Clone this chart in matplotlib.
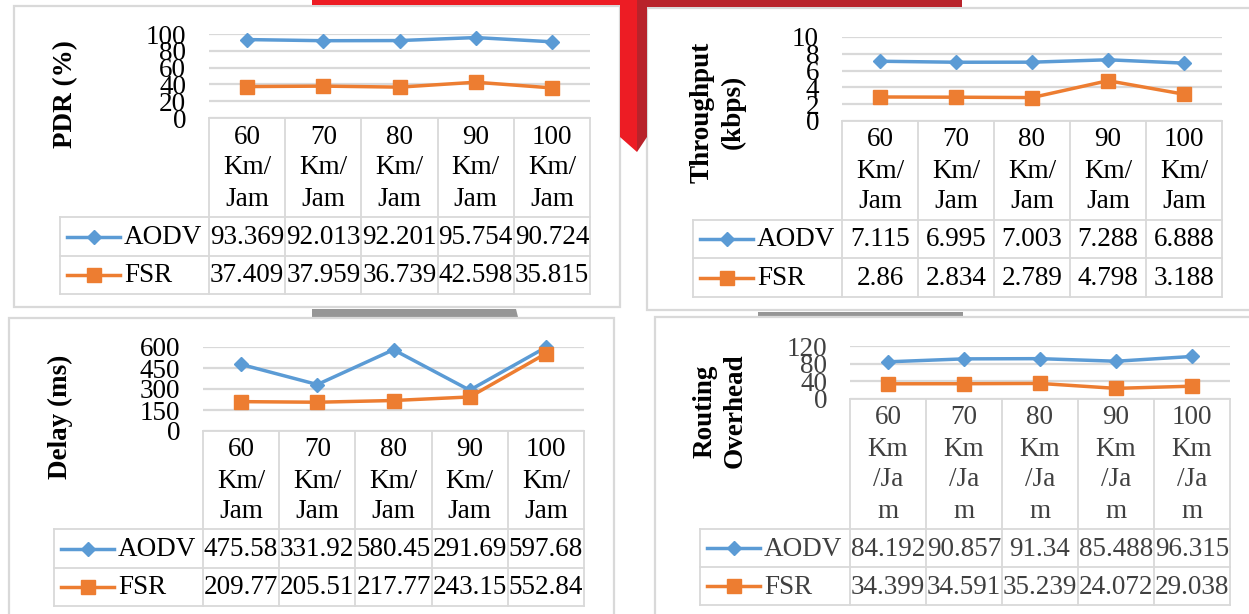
import matplotlib
matplotlib.use("Agg")
import matplotlib.pyplot as plt
from matplotlib.patches import Polygon, Rectangle

plt.rcParams['font.family'] = ['Liberation Serif', 'DejaVu Serif']

# speeds and results per routing protocol
speeds = [60, 70, 80, 90, 100]
series_names = ["AODV", "FSR"]

pdr_aodv = [93.369, 92.013, 92.201, 95.754, 90.724]
pdr_fsr = [37.409, 37.959, 36.739, 42.598, 35.815]
pdr_ticks = [0, 20, 40, 60, 80, 100]

thr_aodv = [7.115, 6.995, 7.003, 7.288, 6.888]
thr_fsr = [2.86, 2.834, 2.789, 4.798, 3.188]
thr_ticks = [0, 2, 4, 6, 8, 10]

delay_aodv = [475.58, 331.92, 580.45, 291.69, 597.68]
delay_fsr = [209.77, 205.51, 217.77, 243.15, 552.84]
delay_ticks = [0, 150, 300, 450, 600]

ro_aodv = [84.192, 90.857, 91.34, 85.488, 96.315]
ro_fsr = [34.399, 34.591, 35.239, 24.072, 29.038]
ro_ticks = [0, 40, 80, 120]

BLUE = "#5B9BD5"
ORANGE = "#ED7D31"
GRID = "#D9D9D9"
W, H = 1249, 614
FS = 19.5

fig = plt.figure(figsize=(W / 100, H / 100), dpi=100)
bg = fig.add_axes([0, 0, 1, 1])
bg.set_xlim(0, W)
bg.set_ylim(H, 0)
bg.axis("off")

# red banner pieces at the top
bg.add_patch(Rectangle((312, 0), 325, 5, color="#ED1C24", lw=0, zorder=3))
bg.add_patch(Rectangle((637, 0), 325, 7, color="#B8232B", lw=0, zorder=3))
bg.add_patch(Polygon([(620, 0), (637, 0), (637, 152), (620, 137)],
                     closed=True, color="#ED1C24", lw=0, zorder=3))
bg.add_patch(Polygon([(637, 0), (647, 0), (647, 137), (637, 152)],
                     closed=True, color="#B8232B", lw=0, zorder=3))

# grey tabs between the panels
bg.add_patch(Polygon([(312, 309), (516, 309), (518, 317), (312, 317)],
                     closed=True, color="#969696", lw=0, zorder=1))
bg.add_patch(Polygon([(758, 312), (963, 312), (963, 317), (758, 317)],
                     closed=True, color="#969696", lw=0, zorder=1))


def px_axes(x0, y0, x1, y1):
    return fig.add_axes([x0 / W, 1 - y1 / H, (x1 - x0) / W, (y1 - y0) / H])


def panel(box, gx0, gx1, ytop, yzero, rows, leg_left, header, ylabel, ylab_xy,
          aodv, fsr, ticks, color="black"):
    bx0, by0, bx1, by1 = box
    bg.add_patch(Rectangle((bx0, by0), bx1 - bx0, by1 - by0, fill=True,
                           facecolor="white", edgecolor=GRID, lw=1.6, zorder=2))

    ax = px_axes(gx0, ytop, gx1, yzero)
    ax.set_facecolor("none")
    ax.set_xlim(-0.5, len(speeds) - 0.5)
    ax.set_ylim(ticks[0], ticks[-1])
    ax.set_yticks(ticks)
    ax.set_yticklabels([str(t) for t in ticks], fontsize=FS, color=color)
    ax.tick_params(axis="y", length=0, pad=16.5)
    ax.set_xticks([])
    for s in ax.spines.values():
        s.set_visible(False)
    ax.grid(axis="y", color=GRID, lw=1.6)
    ax.set_axisbelow(True)
    xs = range(len(speeds))
    ax.plot(xs, aodv, color=BLUE, lw=2.5, marker="D", ms=7.5, clip_on=False, zorder=3)
    ax.plot(xs, fsr, color=ORANGE, lw=2.5, marker="s", ms=10.5, clip_on=False, zorder=3)

    # data table under the plot
    hb, r1, r2 = rows
    n = len(speeds)
    cw = (gx1 - gx0) / n
    lk = dict(color=GRID, lw=1.3, zorder=4)
    bg.plot([gx0, gx1], [yzero, yzero], **lk)
    for y in (hb, r1, r2):
        bg.plot([leg_left, gx1], [y, y], **lk)
    bg.plot([leg_left, leg_left], [hb, r2], **lk)
    for i in range(n + 1):
        x = gx0 + i * cw
        bg.plot([x, x], [yzero, r2], **lk)

    for i, sp in enumerate(speeds):
        cx = gx0 + (i + 0.5) * cw
        for j, line in enumerate(header(sp)):
            bg.text(cx, yzero + 19 + j * 31, line, ha="center", va="center",
                    fontsize=FS, color=color, zorder=5)
        bg.text(cx, (hb + r1) / 2 + 1, f"{aodv[i]:g}", ha="center", va="center",
                fontsize=FS, color=color, zorder=5)
        bg.text(cx, (r1 + r2) / 2 + 1, f"{fsr[i]:g}", ha="center", va="center",
                fontsize=FS, color=color, zorder=5)

    # legend keys in the first column
    for (y0, y1), name, c, m, ms in (((hb, r1), series_names[0], BLUE, "D", 7.5),
                                     ((r1, r2), series_names[1], ORANGE, "s", 10.5)):
        yc = (y0 + y1) / 2
        bg.plot([leg_left + 7, leg_left + 60], [yc, yc], color=c, lw=2.5, zorder=5)
        bg.plot([leg_left + 34], [yc], color=c, marker=m, ms=ms, zorder=5)
        bg.text(leg_left + 64, yc + 1, name, ha="left", va="center",
                fontsize=FS, color=color, zorder=5)

    bg.text(ylab_xy[0], ylab_xy[1], ylabel, rotation=90, ha="center", va="center",
            fontsize=FS, fontweight="bold", color="black", linespacing=1.3,
            multialignment="center", zorder=5)


def head3(sp):
    return [str(sp), "Km/", "Jam"]


def head4(sp):
    return [str(sp), "Km", "/Ja", "m"]


panel((14, 6, 620, 307), 209, 590, 34, 118, (217, 256, 294), 60, head3,
      "PDR (%)", (66, 94), pdr_aodv, pdr_fsr, pdr_ticks)
panel((647, 8, 1260, 310), 842, 1222, 37, 121, (220, 258, 297), 693, head3,
      "Throughput\n(kbps)", (718, 112), thr_aodv, thr_fsr, thr_ticks)
panel((9, 318, 614, 630), 203, 584, 347, 431, (529, 568, 606), 54, head3,
      "Delay (ms)", (60, 417), delay_aodv, delay_fsr, delay_ticks)
panel((655, 317, 1260, 630), 850, 1230, 346, 399, (529, 567, 605), 700, head4,
      "Routing\nOverhead", (720, 411), ro_aodv, ro_fsr, ro_ticks, color="#404040")

fig.savefig("out.png", dpi=100)
